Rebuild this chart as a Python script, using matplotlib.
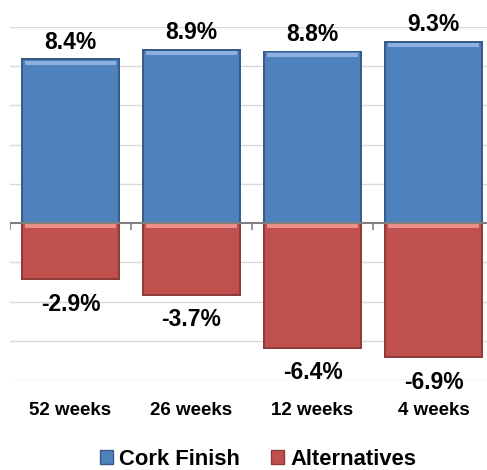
import matplotlib.pyplot as plt
from matplotlib.patches import Patch

categories = ['52 weeks', '26 weeks', '12 weeks', '4 weeks']
cork_finish = [8.4, 8.9, 8.8, 9.3]
alternatives = [-2.9, -3.7, -6.4, -6.9]
series_names = ['Cork Finish', 'Alternatives']

blue = '#4F81BD'
blue_dark = '#375C8A'
blue_light = '#8DB0DE'
red = '#C0504D'
red_dark = '#8E3C3A'
red_light = '#EC8E8A'

plt.rcParams['font.family'] = ['Liberation Sans', 'DejaVu Sans']

fig = plt.figure(figsize=(4.87, 4.70), dpi=100)
ax = fig.add_axes([10 / 487, 90 / 470, 484 / 487, 353 / 470])

x = list(range(len(categories)))
w = 0.81

# gridlines
for g in [-8, -6, -4, -2, 2, 4, 6, 8, 10]:
    ax.axhline(g, color='#D9D9D9', lw=1, zorder=0)

def bevel_bars(vals, face, dark, light):
    # darker frame, inner face, light strip next to the top edge
    ax.bar(x, vals, width=w, color=dark, lw=0, zorder=2)
    inner = [v - 0.1 if v > 0 else v + 0.1 for v in vals]
    ax.bar(x, inner, width=w - 0.03, color=face, lw=0, zorder=3)
    if vals[0] > 0:
        tops = [v - 0.32 for v in vals]
        ax.bar(x, [0.2] * len(vals), bottom=tops, width=w - 0.05, color=light, lw=0, zorder=4)
    else:
        ax.bar(x, [-0.2] * len(vals), bottom=[-0.06] * len(vals), width=w - 0.05, color=light, lw=0, zorder=4)

bevel_bars(cork_finish, blue, blue_dark, blue_light)
bevel_bars(alternatives, red, red_dark, red_light)

for xi, v in zip(x, cork_finish):
    ax.annotate(f'{v:.1f}%', (xi, v), xytext=(0, 11.5), textcoords='offset points',
                ha='center', va='center', fontsize=16.5, fontweight='bold')
for xi, v in zip(x, alternatives):
    ax.annotate(f'{v:.1f}%', (xi, v), xytext=(0, -17.5), textcoords='offset points',
                ha='center', va='center', fontsize=16.5, fontweight='bold')

# baseline and category boundary ticks
ax.axhline(0, color='#808080', lw=1.5, zorder=5)
ax.vlines([i - 0.5 for i in x], -0.36, 0, color='#808080', lw=1.2, zorder=5)

ax.set_xlim(-0.5, len(categories) - 0.5)
ax.set_ylim(-8, 10)
ax.set_yticks([])
ax.set_xticks(x)
ax.set_xticklabels(categories, fontsize=13.5, fontweight='bold')
ax.tick_params(axis='x', length=0, pad=15.5)
for s in ax.spines.values():
    s.set_visible(False)

handles = [Patch(facecolor=blue, edgecolor=blue_dark), Patch(facecolor=red, edgecolor=red_dark)]
fig.legend(handles, series_names, loc='center', bbox_to_anchor=(0.53, 0.023), ncol=2,
           frameon=False, prop={'size': 15.8, 'weight': 'bold'}, handlelength=0.6,
           handleheight=0.6, handletextpad=0.3, columnspacing=1.4)

fig.savefig('out.png', dpi=100)
